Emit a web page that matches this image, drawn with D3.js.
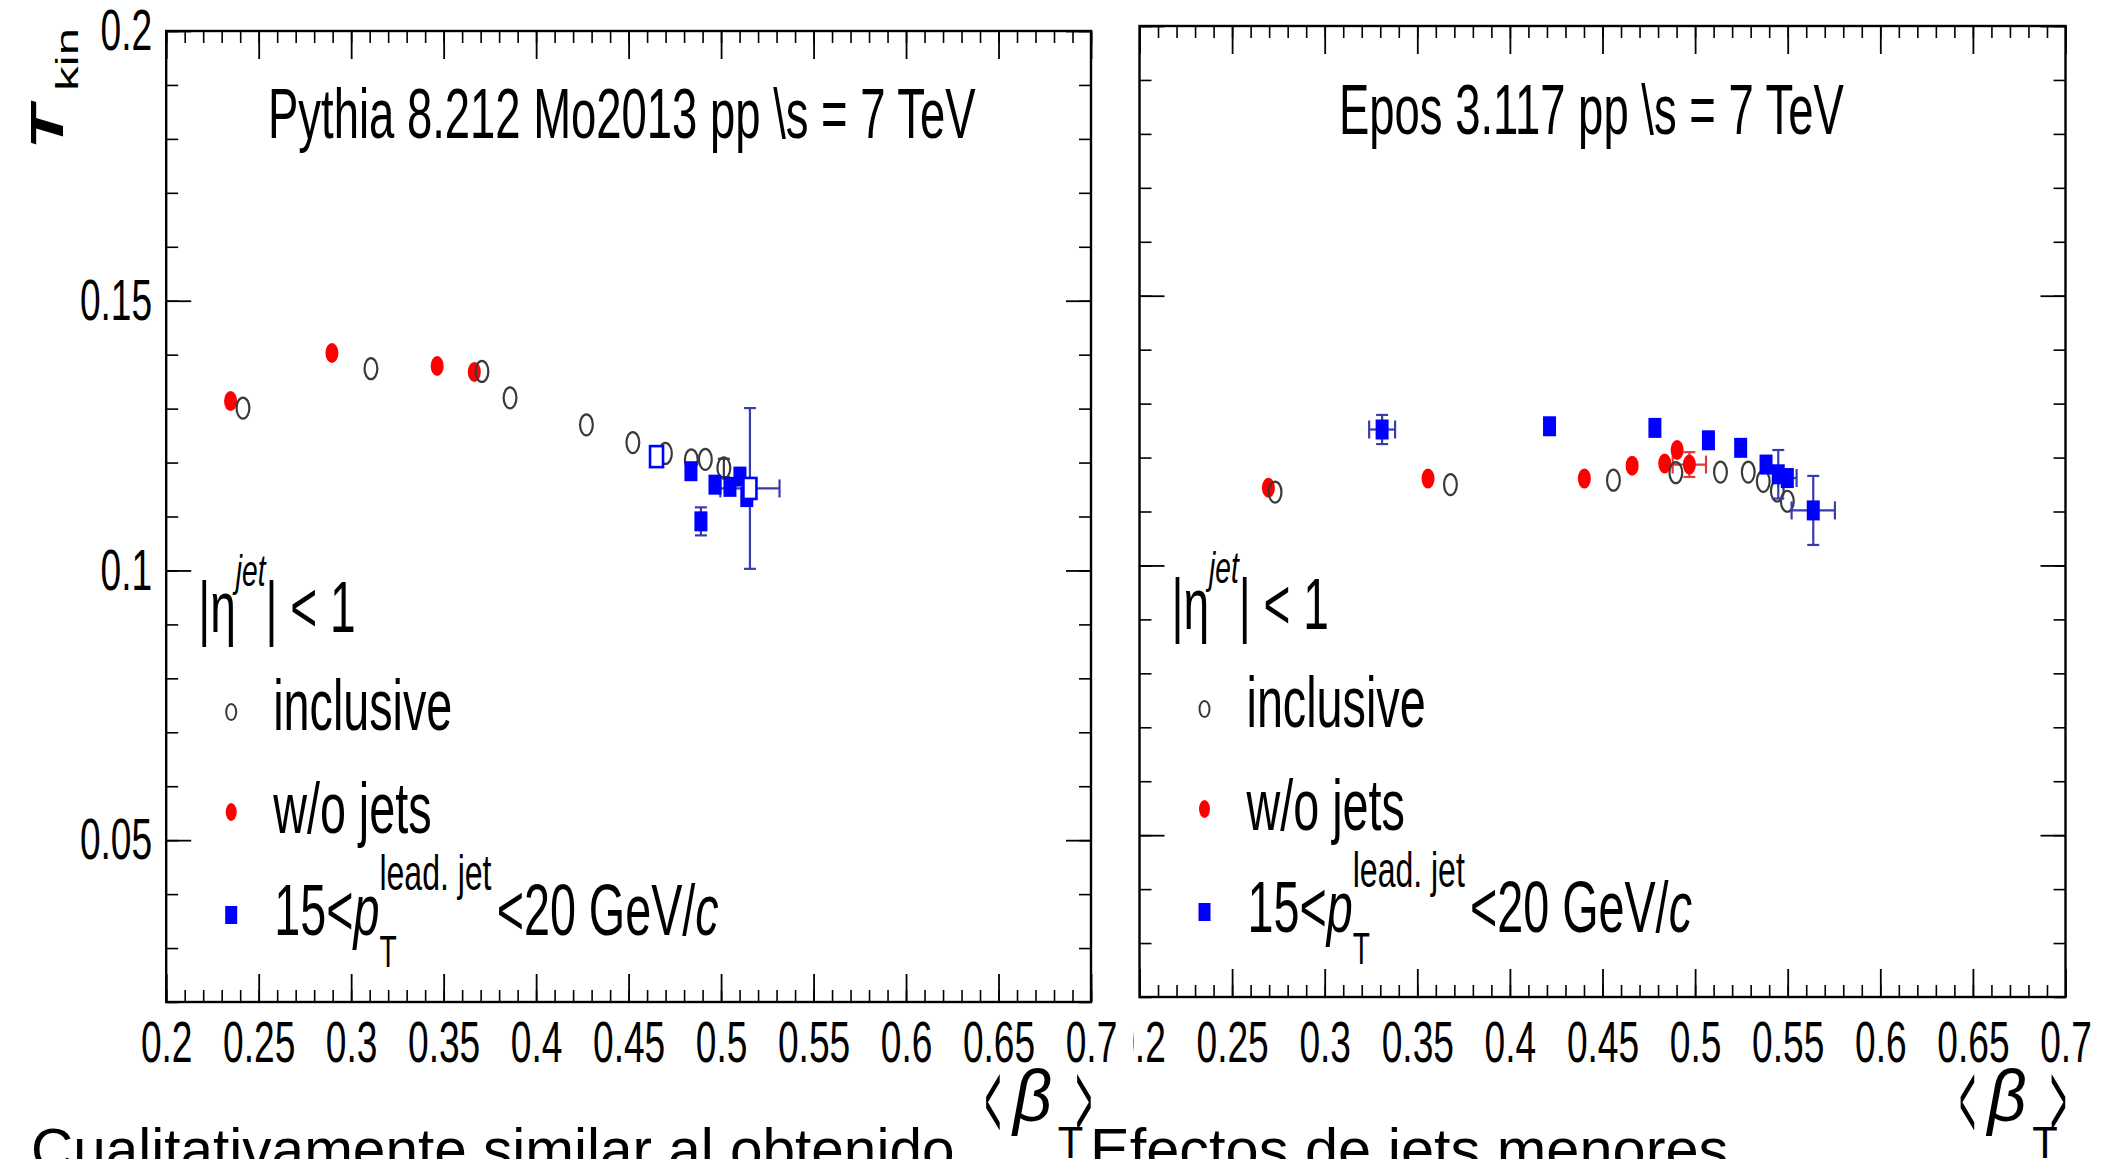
<!DOCTYPE html>
<html>
<head>
<meta charset="utf-8">
<script src="https://cdn.jsdelivr.net/npm/d3@7"></script>
<style>
  html, body { margin: 0; padding: 0; background: #fff; overflow: hidden; }
  svg { display: block; }
</style>
</head>
<body>
<svg id="fig" width="2101" height="1159"></svg>
<script>
// ---- axes ----
const betaDomain = [0.2, 0.7];
const tkinDomain = [0.02, 0.2];
const betaMajorTicks = [0.2, 0.25, 0.3, 0.35, 0.4, 0.45, 0.5, 0.55, 0.6, 0.65, 0.7];
const betaTickLabels = ["0.2", "0.25", "0.3", "0.35", "0.4", "0.45", "0.5", "0.55", "0.6", "0.65", "0.7"];
const tkinMajorTicks = [0.05, 0.1, 0.15, 0.2];
const tkinTickLabels = ["0.05", "0.1", "0.15", "0.2"];

// ---- Pythia 8.212 Mo2013 ----
const pyInclBeta = [0.2415, 0.3107, 0.3707, 0.3859, 0.4272, 0.4523, 0.4699, 0.4839, 0.4915, 0.5015];
const pyInclT    = [0.1301, 0.1374, 0.1369, 0.1320, 0.1270, 0.1237, 0.1217, 0.1205, 0.1206, 0.1190];
const pyInclTErr = [0, 0, 0, 0, 0, 0, 0, 0, 0, 0.0017];

const pyNoJetBeta = [0.2348, 0.2896, 0.3465, 0.3666];
const pyNoJetT    = [0.1314, 0.1403, 0.1379, 0.1368];

const pyLeadBeta = [0.4837, 0.4891, 0.4967, 0.5048, 0.5102, 0.5139];
const pyLeadT    = [0.1184, 0.1091, 0.1159, 0.1155, 0.1174, 0.1136];
const pyLeadTErr = [0, 0.0026, 0, 0, 0, 0];

const pyLeadOpenBeta    = [0.4651, 0.5156];
const pyLeadOpenT       = [0.1211, 0.1152];
const pyLeadOpenTErr    = [0, 0.0149];
const pyLeadOpenBetaErr = [0, 0.0160];

// ---- Epos 3.117 ----
const epInclBeta = [0.2732, 0.3679, 0.4559, 0.4896, 0.5137, 0.5287, 0.5368, 0.5444, 0.5498];
const epInclT    = [0.1136, 0.1150, 0.1158, 0.1172, 0.1173, 0.1173, 0.1156, 0.1138, 0.1119];

const epNoJetBeta    = [0.2696, 0.3558, 0.4402, 0.4660, 0.4836, 0.4903, 0.4969];
const epNoJetT       = [0.1144, 0.1161, 0.1161, 0.1185, 0.1189, 0.1214, 0.1187];
const epNoJetTErr    = [0, 0, 0, 0, 0, 0, 0.0023];
const epNoJetBetaErr = [0, 0, 0, 0, 0, 0, 0.0090];

const epLeadBeta    = [0.3310, 0.4214, 0.4783, 0.5072, 0.5246, 0.5383, 0.5449, 0.5498, 0.5638];
const epLeadT       = [0.1252, 0.1258, 0.1255, 0.1232, 0.1218, 0.1187, 0.1169, 0.1162, 0.1102];
const epLeadTErr    = [0.0027, 0, 0, 0, 0, 0, 0.0045, 0, 0.0064];
const epLeadBetaErr = [0.0070, 0, 0, 0, 0, 0, 0, 0.0050, 0.0117];

// ---- text ----
const pythiaTitle = "Pythia 8.212 Mo2013 pp \\s = 7 TeV";
const eposTitle   = "Epos 3.117 pp \\s = 7 TeV";
const legendInclusive = "inclusive";
const legendNoJet = "w/o jets";
const slideTextLeft = "Cualitativamente similar al obtenido";
const slideTextRight = "Efectos de jets menores";

// ---- styling ----
const FONT = '"Liberation Sans", Arial, Helvetica, sans-serif';
const SX = 0.64;              // horizontal squeeze of the canvas text
const RED = "#ff0000", BLUE = "#0000ff", GREY = "#3a3a3a";
const BLUE_ERR = "#3b3bb0", RED_ERR = "#e03a3a";

const svg = d3.select("#fig");
svg.append("rect").attr("width", 2101).attr("height", 1159).attr("fill", "#fff");

function zip(xs, ys, extra) {
  return xs.map((b, i) => {
    const o = { b: b, t: ys[i] };
    if (extra) Object.keys(extra).forEach(k => { o[k] = extra[k] ? extra[k][i] : 0; });
    return o;
  });
}

// One piece of a rich text label; returns its advance width.
function addPiece(g, x, p) {
  const t = g.append("text")
    .attr("x", x)
    .attr("y", p.dy || 0)
    .attr("font-family", p.family || FONT)
    .attr("font-size", p.size)
    .attr("font-style", p.italic ? "italic" : "normal")
    .attr("font-weight", p.bold ? "bold" : "normal")
    .attr("fill", p.fill || "#000")
    .style("white-space", "pre")
    .text(p.t);
  return t.node().getComputedTextLength();
}

// Sequentially laid out label with sub/superscripts, squeezed like the canvas text.
function richText(parent, x, y, parts, anchorEnd, rotate, sx) {
  const g = parent.append("g");
  let cx = 0;
  parts.forEach(p => {
    cx += p.dx || 0;
    if (p.stack) {
      cx += d3.max(p.stack.map(q => addPiece(g, cx, q)));
    } else {
      cx += addPiece(g, cx, p);
    }
  });
  if (anchorEnd) {
    g.selectAll("text").attr("x", function () { return +this.getAttribute("x") - cx; });
  }
  g.attr("transform", `translate(${x},${y}) scale(${sx || SX},1)` + (rotate ? ` rotate(${rotate})` : ""));
  return g;
}

// Tall, thin angle bracket drawn from a stretched "<" / ">" glyph.
function angleBracket(parent, cx, baseline, ch) {
  parent.append("text")
    .attr("transform", `translate(${cx},${baseline}) scale(0.5,2)`)
    .attr("text-anchor", "middle")
    .attr("font-family", FONT)
    .attr("font-size", 56)
    .attr("fill", "#000")
    .text(ch);
}

function styleAxis(sel, width) {
  sel.select(".domain").remove();
  sel.selectAll(".tick line").attr("stroke", "#000").attr("stroke-width", width);
  sel.attr("font-family", FONT);
}

function drawPanel(cfg) {
  const g = svg.append("g");
  const x = d3.scaleLinear().domain(betaDomain).range([cfg.left, cfg.right]);
  const y = d3.scaleLinear().domain(tkinDomain).range([cfg.bottom, cfg.top]);
  const minorX = x.ticks(50);
  const minorY = y.ticks(18);

  // minor ticks on all four sides, pointing inwards
  g.append("g").attr("transform", `translate(0,${cfg.bottom})`)
    .call(d3.axisBottom(x).tickValues(minorX).tickSize(-12).tickFormat("")).call(styleAxis, 1.6);
  g.append("g").attr("transform", `translate(0,${cfg.top})`)
    .call(d3.axisTop(x).tickValues(minorX).tickSize(-12).tickFormat("")).call(styleAxis, 1.6);
  g.append("g").attr("transform", `translate(${cfg.left},0)`)
    .call(d3.axisLeft(y).tickValues(minorY).tickSize(-12).tickFormat("")).call(styleAxis, 1.6);
  g.append("g").attr("transform", `translate(${cfg.right},0)`)
    .call(d3.axisRight(y).tickValues(minorY).tickSize(-12).tickFormat("")).call(styleAxis, 1.6);

  // major ticks
  const xb = g.append("g").attr("transform", `translate(0,${cfg.bottom})`)
    .call(d3.axisBottom(x).tickValues(betaMajorTicks).tickSize(-28).tickPadding(cfg.xPad)
      .tickFormat((d, i) => betaTickLabels[i]))
    .call(styleAxis, 1.8);
  xb.selectAll(".tick text").attr("font-size", 58).attr("fill", "#000")
    .attr("transform", `scale(${SX},1)`);
  g.append("g").attr("transform", `translate(0,${cfg.top})`)
    .call(d3.axisTop(x).tickValues(betaMajorTicks).tickSize(-28).tickFormat("")).call(styleAxis, 1.8);
  const yl = g.append("g").attr("transform", `translate(${cfg.left},0)`)
    .call(d3.axisLeft(y).tickValues(tkinMajorTicks).tickSize(-25).tickPadding(22)
      .tickFormat((d, i) => cfg.yLabels ? tkinTickLabels[i] : ""))
    .call(styleAxis, 1.8);
  yl.selectAll(".tick text").attr("font-size", 58).attr("fill", "#000")
    .attr("transform", `scale(${SX},1)`);
  g.append("g").attr("transform", `translate(${cfg.right},0)`)
    .call(d3.axisRight(y).tickValues(tkinMajorTicks).tickSize(-25).tickFormat("")).call(styleAxis, 1.8);

  // frame
  g.append("rect")
    .attr("x", cfg.left).attr("y", cfg.top)
    .attr("width", cfg.right - cfg.left).attr("height", cfg.bottom - cfg.top)
    .attr("fill", "none").attr("stroke", "#000").attr("stroke-width", 2.4);

  // error bars
  function errors(pts, color) {
    const eg = g.append("g").attr("stroke", color).attr("stroke-width", 2.2).attr("fill", "none");
    pts.forEach(p => {
      if (p.te > 0) {
        const y0 = y(p.t - p.te), y1 = y(p.t + p.te), xc = x(p.b);
        eg.append("line").attr("x1", xc).attr("x2", xc).attr("y1", y0).attr("y2", y1);
        eg.append("line").attr("x1", xc - 6).attr("x2", xc + 6).attr("y1", y0).attr("y2", y0);
        eg.append("line").attr("x1", xc - 6).attr("x2", xc + 6).attr("y1", y1).attr("y2", y1);
      }
      if (p.be > 0) {
        const x0 = x(p.b - p.be), x1 = x(p.b + p.be), yc = y(p.t);
        eg.append("line").attr("x1", x0).attr("x2", x1).attr("y1", yc).attr("y2", yc);
        eg.append("line").attr("x1", x0).attr("x2", x0).attr("y1", yc - 9).attr("y2", yc + 9);
        eg.append("line").attr("x1", x1).attr("x2", x1).attr("y1", yc - 9).attr("y2", yc + 9);
      }
    });
  }

  const noJet = zip(cfg.noJetBeta, cfg.noJetT, { te: cfg.noJetTErr, be: cfg.noJetBetaErr });
  const incl = zip(cfg.inclBeta, cfg.inclT, { te: cfg.inclTErr, be: null });
  const lead = zip(cfg.leadBeta, cfg.leadT, { te: cfg.leadTErr, be: cfg.leadBetaErr });
  const leadOpen = cfg.leadOpenBeta ? zip(cfg.leadOpenBeta, cfg.leadOpenT, { te: cfg.leadOpenTErr, be: cfg.leadOpenBetaErr }) : [];

  // w/o jets
  errors(noJet, RED_ERR);
  g.append("g").selectAll("ellipse").data(noJet).join("ellipse")
    .attr("cx", d => x(d.b)).attr("cy", d => y(d.t))
    .attr("rx", 6.5).attr("ry", 10).attr("fill", RED);

  // inclusive
  errors(incl, GREY);
  g.append("g").selectAll("ellipse").data(incl).join("ellipse")
    .attr("cx", d => x(d.b)).attr("cy", d => y(d.t))
    .attr("rx", 6.4).attr("ry", 10.5).attr("fill", "none")
    .attr("stroke", GREY).attr("stroke-width", 2.2);

  // 15 < pT lead jet < 20 GeV/c
  errors(lead, BLUE_ERR);
  errors(leadOpen, BLUE_ERR);
  g.append("g").selectAll("rect").data(lead).join("rect")
    .attr("x", d => x(d.b) - 6.5).attr("y", d => y(d.t) - 10)
    .attr("width", 13).attr("height", 20).attr("fill", BLUE);
  g.append("g").selectAll("rect").data(leadOpen).join("rect")
    .attr("x", d => x(d.b) - 6.5).attr("y", d => y(d.t) - 10.5)
    .attr("width", 13).attr("height", 21).attr("fill", "#fff")
    .attr("stroke", BLUE).attr("stroke-width", 2.6);

  // title
  richText(g, cfg.titleX, cfg.titleY, [{ t: cfg.title, size: 71 }]);

  // legend
  const lx = cfg.left, ly = cfg.legendDy;
  richText(g, lx + 32, ly + 632, [
    { t: "|", size: 72 },
    { t: "η", size: 72 },
    { t: "jet", size: 44, italic: true, dy: -46 },
    { t: "| < 1", size: 72 }
  ]);
  g.append("ellipse").attr("cx", lx + 65).attr("cy", ly + 712)
    .attr("rx", 5).attr("ry", 8).attr("fill", "none").attr("stroke", GREY).attr("stroke-width", 2);
  richText(g, lx + 107, ly + 730, [{ t: legendInclusive, size: 73 }]);
  g.append("ellipse").attr("cx", lx + 65).attr("cy", ly + 812)
    .attr("rx", 5.5).attr("ry", 9).attr("fill", RED);
  richText(g, lx + 107, ly + 833, [{ t: legendNoJet, size: 73 }]);
  g.append("rect").attr("x", lx + 59).attr("y", ly + 906)
    .attr("width", 12).attr("height", 18).attr("fill", BLUE);
  richText(g, lx + 108, ly + 935, [
    { t: "15<", size: 73 },
    { t: "p", size: 73, italic: true },
    { stack: [
      { t: "T", size: 44, dy: 32 },
      { t: "lead. jet", size: 50, dy: -45 }
    ] },
    { t: "<20 GeV/", size: 73, dx: 8 },
    { t: "c", size: 73, italic: true }
  ]);

  // x axis title  < beta_T >
  angleBracket(g, cfg.right - 98, 1139, "<");
  richText(g, cfg.right - 78, 1121, [
    { t: "β", size: 72, italic: true },
    { t: "T", size: 44, dy: 37, dx: 6 }
  ], false, 0, 0.95);
  angleBracket(g, cfg.right - 7, 1139, ">");

  return g;
}

// Epos panel (drawn first: the Pythia pad overlaps its edge)
drawPanel({
  left: 1139.5, right: 2065.5, top: 26, bottom: 997, xPad: 24, yLabels: false,
  title: eposTitle, titleX: 1339, titleY: 134, legendDy: -3,
  inclBeta: epInclBeta, inclT: epInclT, inclTErr: null,
  noJetBeta: epNoJetBeta, noJetT: epNoJetT, noJetTErr: epNoJetTErr, noJetBetaErr: epNoJetBetaErr,
  leadBeta: epLeadBeta, leadT: epLeadT, leadTErr: epLeadTErr, leadBetaErr: epLeadBetaErr
});

// Pythia pad background
svg.append("rect").attr("x", 0).attr("y", 0).attr("width", 1133).attr("height", 1159).attr("fill", "#fff");

drawPanel({
  left: 166.2, right: 1091, top: 31, bottom: 1002, xPad: 19, yLabels: true,
  title: pythiaTitle, titleX: 268, titleY: 138, legendDy: 0,
  inclBeta: pyInclBeta, inclT: pyInclT, inclTErr: pyInclTErr,
  noJetBeta: pyNoJetBeta, noJetT: pyNoJetT, noJetTErr: null, noJetBetaErr: null,
  leadBeta: pyLeadBeta, leadT: pyLeadT, leadTErr: pyLeadTErr, leadBetaErr: null,
  leadOpenBeta: pyLeadOpenBeta, leadOpenT: pyLeadOpenT, leadOpenTErr: pyLeadOpenTErr, leadOpenBetaErr: pyLeadOpenBetaErr
});

// y axis title  T_kin (rotated, right-aligned to the top of the axis)
richText(svg, 63, 28, [
  { t: "T", size: 72, bold: true, italic: true },
  { t: "kin", size: 49, dy: 23, dx: 15 }
], true, -90);

// slide text
svg.append("text").attr("x", 31).attr("y", 1170)
  .attr("font-family", FONT).attr("font-size", 58.5).attr("fill", "#000").text(slideTextLeft);
svg.append("text").attr("x", 1090).attr("y", 1170)
  .attr("font-family", FONT).attr("font-size", 59.5).attr("fill", "#000").text(slideTextRight);
</script>
</body>
</html>
